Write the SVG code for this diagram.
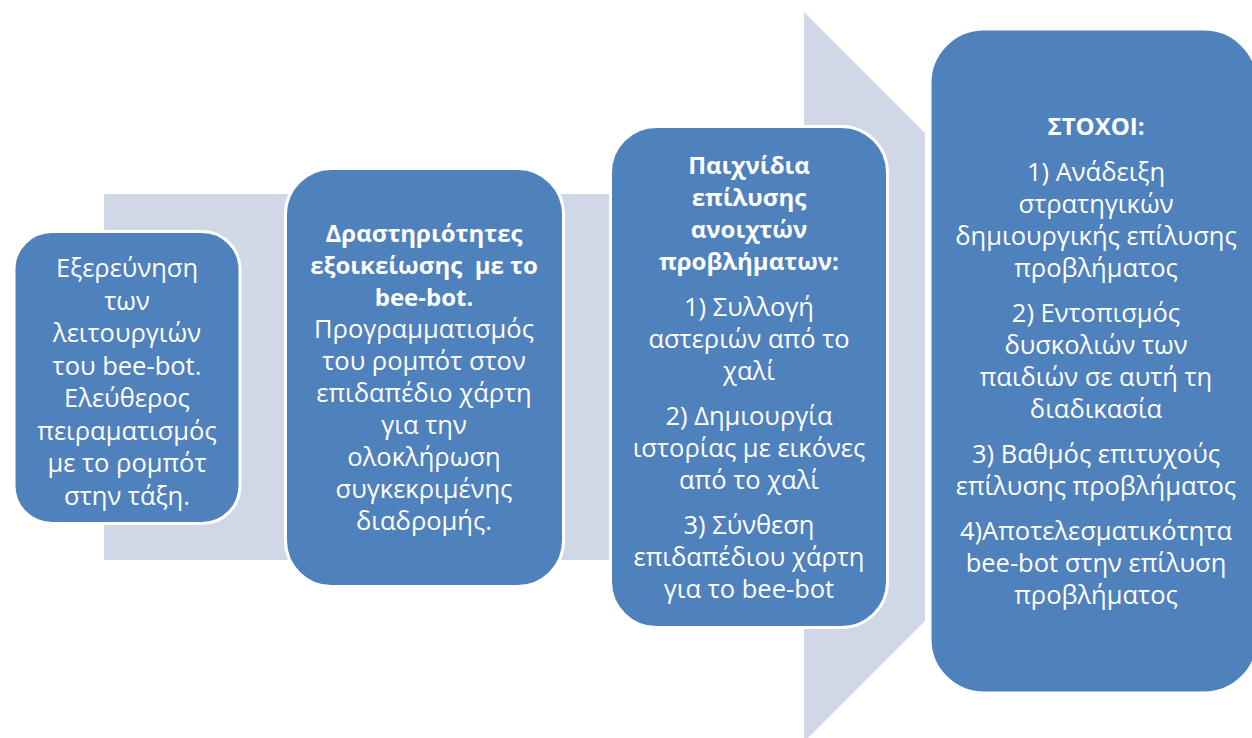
<svg xmlns="http://www.w3.org/2000/svg" width="1252" height="738" viewBox="0 0 1252 738">
<style>
.bg{fill:#D0D8E8}
.box{fill:#4F81BD;stroke:#FFFFFF;stroke-width:3}
text{font-family:"Open Sans","Noto Sans","DejaVu Sans",sans-serif;font-size:25.5px;fill:#FFFFFF;text-anchor:middle}
.b{font-weight:bold;font-size:24px}
</style>
<g id="flow-arrow">
<polygon class="bg" points="104,194 804,194 804,12 925,133 925,621 804,742 804,560 104,560"/>
</g>
<g id="connectors"></g>
<g id="node1">
<rect class="box" x="14" y="231.5" width="226" height="292" rx="38" ry="38"/>
<text x="127" y="277">Εξερεύνηση</text>
<text x="127" y="309.5">των</text>
<text x="127" y="342">λειτουργιών</text>
<text x="127" y="374.5">του bee-bot.</text>
<text x="127" y="407">Ελεύθερος</text>
<text x="127" y="439.5">πειραματισμός</text>
<text x="127" y="472">με το ρομπότ</text>
<text x="127" y="504.5">στην τάξη.</text>
</g>
<g id="node2">
<rect class="box" x="285.5" y="168.5" width="278" height="418" rx="46" ry="46"/>
<text class="b" x="424" y="242">Δραστηριότητες</text>
<text class="b" x="424" y="274" xml:space="preserve" style="white-space:pre">εξοικείωσης  με το</text>
<text class="b" x="424" y="306">bee-bot.</text>
<text x="424" y="338">Προγραμματισμός</text>
<text x="424" y="370">του ρομπότ στον</text>
<text x="424" y="402">επιδαπέδιο χάρτη</text>
<text x="424" y="434">για την</text>
<text x="424" y="466">ολοκλήρωση</text>
<text x="424" y="498">συγκεκριμένης</text>
<text x="424" y="530">διαδρομής.</text>
</g>
<g id="node3">
<rect class="box" x="610.5" y="126.5" width="277" height="501" rx="46" ry="46"/>
<text class="b" x="749" y="174">Παιχνίδια</text>
<text class="b" x="749" y="206">επίλυσης</text>
<text class="b" x="749" y="238">ανοιχτών</text>
<text class="b" x="749" y="270">προβλήματων:</text>
<text x="749" y="316">1) Συλλογή</text>
<text x="749" y="348">αστεριών από το</text>
<text x="749" y="380">χαλί</text>
<text x="749" y="425">2) Δημιουργία</text>
<text x="749" y="457">ιστορίας με εικόνες</text>
<text x="749" y="489">από το χαλί</text>
<text x="749" y="534">3) Σύνθεση</text>
<text x="749" y="566">επιδαπέδιου χάρτη</text>
<text x="749" y="598">για το bee-bot</text>
</g>
<g id="node4">
<rect class="box" x="930" y="29" width="328" height="664" rx="54" ry="54"/>
<text class="b" x="1096" y="135">ΣΤΟΧΟΙ:</text>
<text x="1096" y="181">1) Ανάδειξη</text>
<text x="1096" y="213">στρατηγικών</text>
<text x="1096" y="245">δημιουργικής επίλυσης</text>
<text x="1096" y="277">προβλήματος</text>
<text x="1096" y="322">2) Εντοπισμός</text>
<text x="1096" y="354">δυσκολιών των</text>
<text x="1096" y="386">παιδιών σε αυτή τη</text>
<text x="1096" y="418">διαδικασία</text>
<text x="1096" y="463">3) Βαθμός επιτυχούς</text>
<text x="1096" y="495">επίλυσης προβλήματος</text>
<text x="1096" y="540">4)Αποτελεσματικότητα</text>
<text x="1096" y="572">bee-bot στην επίλυση</text>
<text x="1096" y="604">προβλήματος</text>
</g>
</svg>
